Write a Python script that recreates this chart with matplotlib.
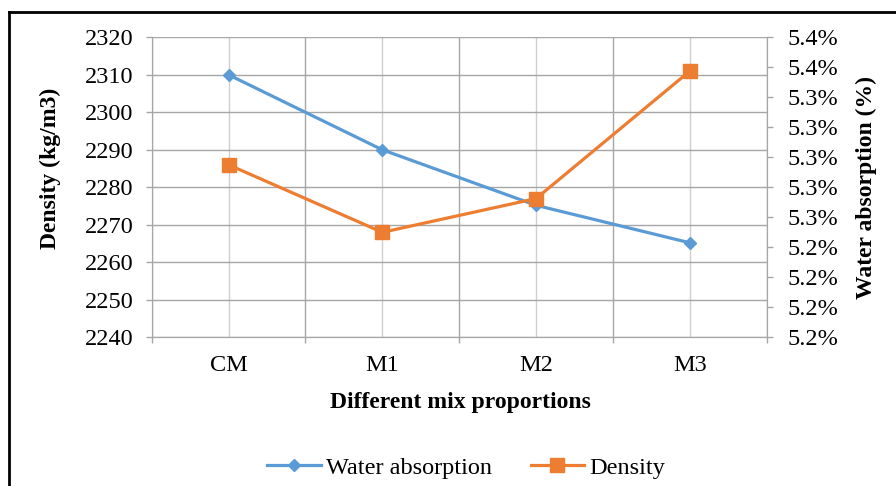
import matplotlib
matplotlib.use("Agg")
import matplotlib.pyplot as plt
from matplotlib.lines import Line2D
from matplotlib.ticker import FuncFormatter
import numpy as np

plt.rcParams["font.family"] = ["Liberation Serif", "DejaVu Serif"]

mixes = ["CM", "M1", "M2", "M3"]
water_absorption = [5.355, 5.305, 5.268, 5.243]   # %
density = [2286, 2268, 2277, 2311]                # kg/m3

density_ticks = np.arange(2240, 2321, 10)
wa_lim = (5.18, 5.38)
wa_step = 0.02

BLUE = "#5B9BD5"
ORANGE = "#ED7D31"
GRID = "#a6a6a6"
GRID_LIGHT = "#cfcfcf"
TICK_FS = 17.5
LABEL_FS = 17

W, H = 896, 486
fig = plt.figure(figsize=(W / 100, H / 100), dpi=100)

# plot area in pixels
px_left, px_right, px_top, px_bottom = 151.7, 766.7, 37.3, 337.3
ax = fig.add_axes([px_left / W, 1 - px_bottom / H,
                   (px_right - px_left) / W, (px_bottom - px_top) / H])
ax2 = ax.twinx()

x = np.arange(len(mixes))

# left axis: density
ax.set_xlim(-0.5, len(mixes) - 0.5)
ax.set_ylim(density_ticks[0], density_ticks[-1])
ax.set_yticks(density_ticks)
ax.set_xticks(x)
ax.set_xticklabels(mixes)
ax.set_xticks(np.arange(-0.5, len(mixes), 1.0), minor=True)

ax.grid(True, axis="y", color=GRID, linewidth=1.0)
ax.grid(True, axis="x", which="major", color=GRID_LIGHT, linewidth=1.0)
ax.grid(True, axis="x", which="minor", color=GRID, linewidth=1.0)
ax.set_axisbelow(True)

ax.tick_params(axis="y", which="major", direction="out", length=4.3, width=1,
               color=GRID, pad=9, labelsize=TICK_FS)
ax.tick_params(axis="x", which="major", length=0, pad=13, labelsize=TICK_FS)
ax.tick_params(axis="x", which="minor", direction="out", length=4.3, width=1,
               color=GRID)

ax.spines["top"].set_visible(False)
ax2.spines["top"].set_visible(False)
for s in ["left", "bottom", "right"]:
    ax.spines[s].set_color(GRID)
    ax2.spines[s].set_color(GRID)

# right axis: water absorption
ax2.set_ylim(*wa_lim)
ax2.set_yticks(np.arange(wa_lim[0], wa_lim[1] + wa_step / 2, wa_step))
ax2.yaxis.set_major_formatter(FuncFormatter(lambda v, p: f"{v:.1f}%"))
ax2.tick_params(axis="y", direction="out", length=4.3, width=1, color=GRID,
                pad=11, labelsize=TICK_FS)

ax2.plot(x, water_absorption, color=BLUE, linewidth=2.3, marker="D",
         markersize=6, zorder=3)
# density drawn on top, using the left-axis scale
ax2.plot(x, density, color=ORANGE, linewidth=2.3, marker="s",
         markersize=10, transform=ax.transData, zorder=4)
ax2.set_ylim(*wa_lim)
ax2.set_xlim(-0.5, len(mixes) - 0.5)

fig.text(50 / W, 1 - 168 / H, "Density (kg/m3)", rotation=90, ha="center",
         va="center", fontsize=LABEL_FS, fontweight="bold")
fig.text(866 / W, 1 - 187 / H, "Water absorption (%)", rotation=90,
         ha="center", va="center", fontsize=LABEL_FS, fontweight="bold")
fig.text(460 / W, 1 - 402 / H, "Different mix proportions", ha="center",
         va="center", fontsize=LABEL_FS, fontweight="bold")

handles = [
    Line2D([], [], color=BLUE, linewidth=2.3, marker="D", markersize=6),
    Line2D([], [], color=ORANGE, linewidth=2.3, marker="s", markersize=10),
]
fig.legend(handles, ["Water absorption", "Density"], loc="center",
           bbox_to_anchor=(466 / W, 1 - 468 / H), ncol=2, frameon=False,
           fontsize=TICK_FS, handlelength=2.2, handletextpad=0.2,
           columnspacing=1.6)

# outer chart border (top and left edges visible)
fig.add_artist(Line2D([9 / W, 1], [1 - 12 / H, 1 - 12 / H],
                      transform=fig.transFigure, color="black", linewidth=2))
fig.add_artist(Line2D([9 / W, 9 / W], [0, 1 - 12 / H],
                      transform=fig.transFigure, color="black", linewidth=2))

fig.savefig("out.png", dpi=100)
